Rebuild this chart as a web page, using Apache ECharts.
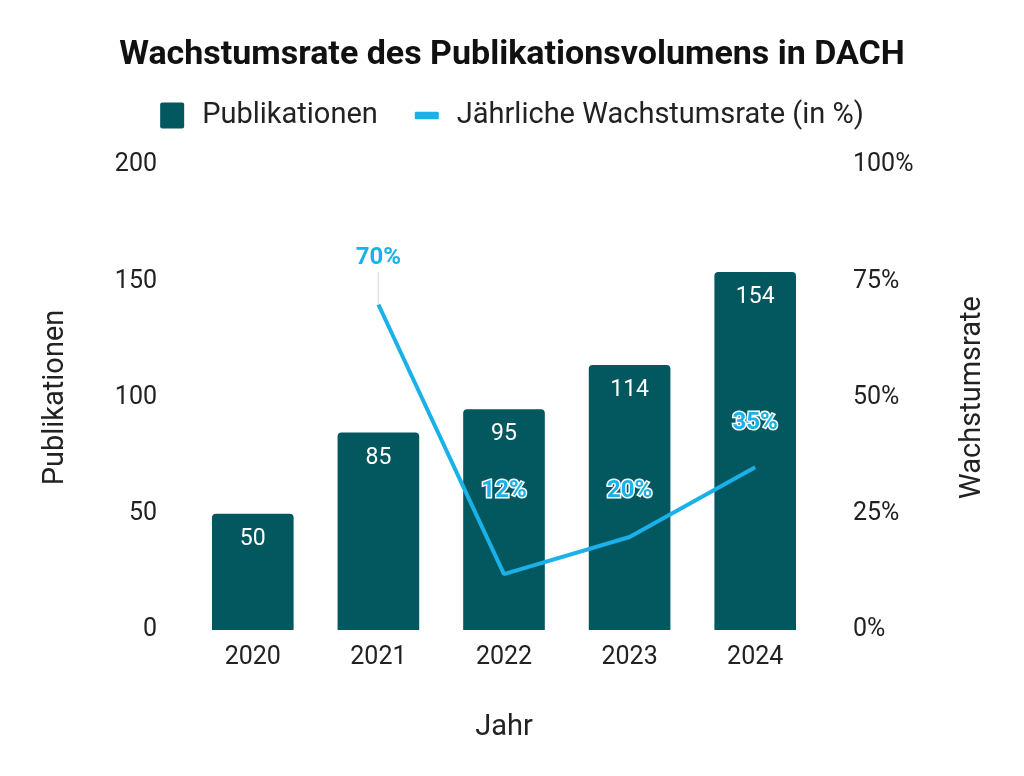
<!DOCTYPE html>
<html><head><meta charset="utf-8">
<script src="https://cdn.jsdelivr.net/npm/echarts@6/dist/echarts.min.js"></script>
<style>html,body{margin:0;padding:0;background:#fff}#c{width:1024px;height:776px}</style>
</head><body><div id="c"></div>
<script>
const years = ['2020','2021','2022','2023','2024'];
const publications = [50, 85, 95, 114, 154];
const growthRates = [null, 70, 12, 20, 35];
const growthLabelShift = [0, -47, -84, -47, -45];
const leftTicks = [0, 50, 100, 150, 200];
const rightTicks = [0, 25, 50, 75, 100];

const chart = echarts.init(document.getElementById('c'));
const font = 'Roboto';
chart.setOption({
  backgroundColor: '#fff',
  textStyle: { fontFamily: font },
  title: {
    text: 'Wachstumsrate des Publikationsvolumens in DACH',
    left: 'center', top: 33,
    textStyle: { fontFamily: font, fontSize: 34, fontWeight: 'bold', color: '#111' }
  },
  legend: {
    top: 96, left: 'center', itemGap: 37, itemWidth: 24, itemHeight: 26,
    textStyle: { fontFamily: font, fontSize: 29, color: '#222', padding: [0, 0, 0, 13] },
    data: [
      { name: 'Publikationen', icon: 'path://M2,0L22,0Q24,0 24,2L24,24Q24,26 22,26L2,26Q0,26 0,24L0,2Q0,0 2,0Z' },
      { name: 'Jährliche Wachstumsrate (in %)', icon: 'path://M1,0L21,0Q22,0 22,1L22,6Q22,7 21,7L1,7Q0,7 0,6L0,1Q0,0 1,0Z', itemStyle: { color: '#1ab0e8' } }
    ]
  },
  grid: { left: 190, right: 206, top: 165, bottom: 146 },
  xAxis: {
    type: 'category', data: years,
    name: 'Jahr', nameLocation: 'middle', nameGap: 83,
    nameTextStyle: { fontSize: 29, color: '#222', fontFamily: font },
    axisLine: { show: false }, axisTick: { show: false },
    axisLabel: { fontSize: 25, color: '#222', margin: 15, fontFamily: font }
  },
  yAxis: [
    {
      type: 'value', min: leftTicks[0], max: leftTicks[leftTicks.length - 1], interval: 50,
      name: 'Publikationen', nameLocation: 'middle', nameGap: 120, nameRotate: 90,
      nameTextStyle: { fontSize: 29, color: '#222', fontFamily: font },
      axisLine: { show: false }, axisTick: { show: false }, splitLine: { show: false },
      axisLabel: { fontSize: 25, color: '#222', margin: 33, fontFamily: font }
    },
    {
      type: 'value', min: rightTicks[0], max: rightTicks[rightTicks.length - 1], interval: 25,
      name: 'Wachstumsrate', nameLocation: 'middle', nameGap: 140, nameRotate: 90,
      nameTextStyle: { fontSize: 29, color: '#222', fontFamily: font },
      axisLine: { show: false }, axisTick: { show: false }, splitLine: { show: false },
      axisLabel: { fontSize: 25, color: '#222', margin: 35, formatter: '{value}%', fontFamily: font }
    }
  ],
  series: [
    {
      name: 'Publikationen', type: 'bar', data: publications, barWidth: '65%',
      itemStyle: { color: '#03585f', borderRadius: [4, 4, 0, 0] },
      label: { show: true, position: 'insideTop', distance: 14, color: '#fff', fontSize: 23, fontFamily: font }
    },
    {
      name: 'Jährliche Wachstumsrate (in %)', type: 'line', yAxisIndex: 1,
      data: growthRates.map((v, i) => ({ value: v, labelLine: { show: i === 1 } })),
      symbol: 'circle', symbolSize: 0.1, showSymbol: true,
      lineStyle: { color: '#1ab0e8', width: 4 },
      itemStyle: { color: '#1ab0e8' },
      label: {
        show: true, position: 'top', distance: 0, formatter: '{c}%',
        color: '#1ab0e8', fontSize: 24, fontWeight: 'bold', fontFamily: font,
        textBorderColor: '#fff', textBorderWidth: 3
      },
      labelLine: { show: false, lineStyle: { color: '#e3e3e3', width: 1.5 } },
      labelLayout: (p) => ({ dy: growthLabelShift[p.dataIndex] + 13 })
    }
  ]
});
</script></body></html>
